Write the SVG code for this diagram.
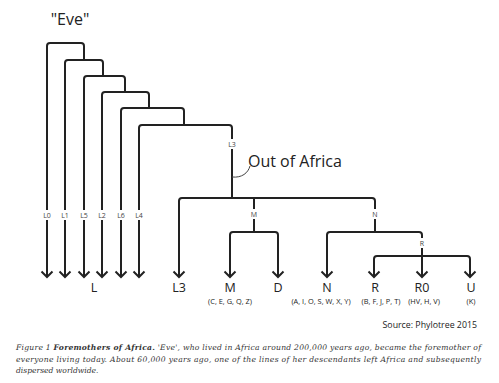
<svg xmlns="http://www.w3.org/2000/svg" width="499" height="383" viewBox="0 0 499 383">
<defs>
<style>
.ln{fill:none;stroke:#222;stroke-width:2;stroke-linejoin:round;stroke-linecap:butt}
.ah{fill:none;stroke:#222;stroke-width:2;stroke-linejoin:miter}
.thin{fill:none;stroke:#444;stroke-width:1}
.lab{font-family:"Open Sans","Liberation Sans",sans-serif;font-size:7px;fill:#444;text-anchor:middle}
.big{font-family:"Open Sans","Liberation Sans",sans-serif;font-size:12.5px;fill:#222;text-anchor:middle}
.sub{font-family:"Open Sans","Liberation Sans",sans-serif;font-size:7.4px;fill:#222;text-anchor:middle}
.title{font-family:"Open Sans","Liberation Sans",sans-serif;font-size:16px;fill:#222}
.cap{font-family:"DejaVu Serif","Liberation Serif",serif;font-size:7.6px;font-style:italic;fill:#333}
.bg{fill:#fff}
</style>
</defs>
<rect width="499" height="383" fill="#fff"/>
<g id="connectors">
<path class="ln" d="M47,271 V46 Q47,43 50,43 H81 Q84,43 84,46 V60"/>
<path class="ln" d="M65,271 V63 Q65,60 68,60 H100 Q103,60 103,63 V76"/>
<path class="ln" d="M84,271 V79 Q84,76 87,76 H122 Q125,76 125,79 V92"/>
<path class="ln" d="M102,271 V95 Q102,92 105,92 H146 Q149,92 149,95 V108"/>
<path class="ln" d="M121,271 V111 Q121,108 124,108 H181 Q184,108 184,111 V125"/>
<path class="ln" d="M139,271 V128 Q139,125 142,125 H229 Q232,125 232,128 V198"/>
<path class="ln" d="M179,271 V201 Q179,198 182,198 H372 Q375,198 375,201 V232"/>
<path class="ln" d="M254,198 V232"/>
<path class="ln" d="M230,271 V235 Q230,232 233,232 H275 Q278,232 278,235 V271"/>
<path class="ln" d="M327,271 V235 Q327,232 330,232 H419 Q422,232 422,235 V271"/>
<path class="ln" d="M374,271 V259 Q374,256 377,256 H467 Q470,256 470,259 V271"/>
<path d="M47,270 V276 M65,270 V276 M84,270 V276 M102,270 V276 M121,270 V276 M139,270 V276 M179,270 V276 M230,270 V276 M278,270 V276 M327,270 V276 M374,270 V276 M422,270 V276 M470,270 V276" stroke="#222" stroke-width="2"/>
<path class="ah" d="M41.5,271.5 L47,277 L52.5,271.5"/>
<path class="ah" d="M59.5,271.5 L65,277 L70.5,271.5"/>
<path class="ah" d="M78.5,271.5 L84,277 L89.5,271.5"/>
<path class="ah" d="M96.5,271.5 L102,277 L107.5,271.5"/>
<path class="ah" d="M115.5,271.5 L121,277 L126.5,271.5"/>
<path class="ah" d="M133.5,271.5 L139,277 L144.5,271.5"/>
<path class="ah" d="M173.5,271.5 L179,277 L184.5,271.5"/>
<path class="ah" d="M224.5,271.5 L230,277 L235.5,271.5"/>
<path class="ah" d="M272.5,271.5 L278,277 L283.5,271.5"/>
<path class="ah" d="M321.5,271.5 L327,277 L332.5,271.5"/>
<path class="ah" d="M368.5,271.5 L374,277 L379.5,271.5"/>
<path class="ah" d="M416.5,271.5 L422,277 L427.5,271.5"/>
<path class="ah" d="M464.5,271.5 L470,277 L475.5,271.5"/>
<path class="thin" d="M232,177 C242,178 248,173 250,166"/>
</g>
<g id="branch-labels">
<rect class="bg" x="41" y="210" width="12" height="10"/><text class="lab" x="47" y="217.5">L0</text>
<rect class="bg" x="59" y="210" width="12" height="10"/><text class="lab" x="65" y="217.5">L1</text>
<rect class="bg" x="78" y="210" width="12" height="10"/><text class="lab" x="84" y="217.5">L5</text>
<rect class="bg" x="96" y="210" width="12" height="10"/><text class="lab" x="102" y="217.5">L2</text>
<rect class="bg" x="115" y="210" width="12" height="10"/><text class="lab" x="121" y="217.5">L6</text>
<rect class="bg" x="133" y="210" width="12" height="10"/><text class="lab" x="139" y="217.5">L4</text>
<rect class="bg" x="226" y="139" width="12" height="10"/><text class="lab" x="232" y="146.5">L3</text>
<rect class="bg" x="249" y="209" width="10" height="10"/><text class="lab" x="254" y="216.5">M</text>
<rect class="bg" x="370" y="209" width="10" height="10"/><text class="lab" x="375" y="216.5">N</text>
<rect class="bg" x="418" y="238" width="8" height="10"/><text class="lab" x="422" y="245.5">R</text>
</g>
<g id="eve"><text class="title" x="70" y="25" text-anchor="middle">"Eve"</text></g>
<g id="out-of-africa"><text class="title" x="248" y="167">Out of Africa</text></g>
<g id="node-L"><text class="big" x="94" y="291.5">L</text></g>
<g id="node-L3"><text class="big" x="179" y="291.5">L3</text></g>
<g id="node-M"><text class="big" x="230" y="291.5">M</text><text class="sub" x="230" y="303.5">(C, E, G, Q, Z)</text></g>
<g id="node-D"><text class="big" x="278" y="291.5">D</text></g>
<g id="node-N"><text class="big" x="327" y="291.5">N</text><text class="sub" x="321" y="303.5">(A, I, O, S, W, X, Y)</text></g>
<g id="node-R"><text class="big" x="375" y="291.5">R</text><text class="sub" x="381" y="303.5">(B, F, J, P, T)</text></g>
<g id="node-R0"><text class="big" x="422" y="291.5">R0</text><text class="sub" x="424" y="303.5">(HV, H, V)</text></g>
<g id="node-U"><text class="big" x="471" y="291.5">U</text><text class="sub" x="471" y="303.5">(K)</text></g>
<g id="source"><text x="477" y="328" text-anchor="end" font-family="'Open Sans','Liberation Sans',sans-serif" font-size="8.8" fill="#222">Source: Phylotree 2015</text></g>
<g id="caption">
<text class="cap" x="16" y="350" textLength="465" lengthAdjust="spacing">Figure 1 <tspan font-weight="bold">Foremothers of Africa.</tspan> 'Eve', who lived in Africa around 200,000 years ago, became the foremother of</text>
<text class="cap" x="16" y="361.5" textLength="465" lengthAdjust="spacing">everyone living today. About 60,000 years ago, one of the lines of her descendants left Africa and subsequently</text>
<text class="cap" x="16" y="373">dispersed worldwide.</text>
</g>
</svg>
